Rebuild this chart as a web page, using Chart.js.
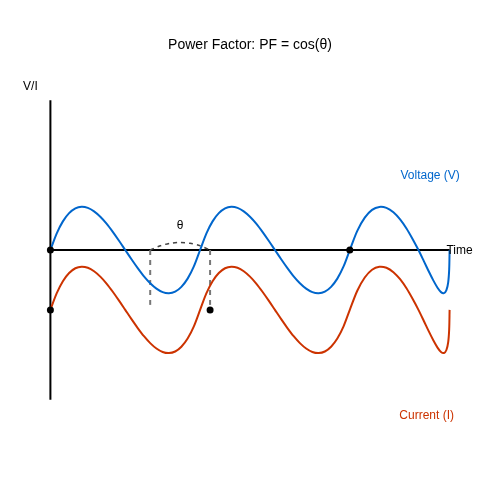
<!DOCTYPE html>
<html>
<head>
<meta charset="utf-8">
<script src="https://cdn.jsdelivr.net/npm/chart.js@4"></script>
<style>
    html, body { margin: 0; padding: 0; background: #fff; }
    #wrap { width: 500px; height: 500px; }
</style>
</head>
<body>
<div id="wrap"><canvas id="pfChart"></canvas></div>
<script>
// time axis (arbitrary units, 0 = origin of the axes)
const time = [
    0, 6.25, 12.5, 18.75, 25, 31.25, 37.5, 43.75, 50, 56.25, 62.5, 68.75, 75,
    81.25, 87.5, 93.75, 100, 106.25, 112.5, 118.75, 125, 131.25, 137.5, 143.75, 150,
    156.25, 162.5, 168.75, 175, 181.25, 187.5, 193.75, 200, 206.25, 212.5, 218.75, 225,
    231.25, 237.5, 243.75, 250, 256.25, 262.5, 268.75, 275, 281.25, 287.5, 293.75, 300,
    307.5, 315, 322.3, 329.6, 336.7, 343.7, 350.4, 356.8, 362.9, 368.8,
    374.2, 379.2, 383.8, 387.9, 391.4, 394.4, 396.8, 398.6, 399.6, 400
];
const voltage = [
    0, 16.5, 28.7, 36.9, 41.7, 43.3, 42.2, 38.7, 33.3, 26.4, 18.2, 9.3, 0,
    -9.3, -18.2, -26.4, -33.3, -38.7, -42.2, -43.3, -41.7, -36.9, -28.7, -16.5, 0,
    16.5, 28.7, 36.9, 41.7, 43.3, 42.2, 38.7, 33.3, 26.4, 18.2, 9.3, 0,
    -9.3, -18.2, -26.4, -33.3, -38.7, -42.2, -43.3, -41.7, -36.9, -28.7, -16.5, 0,
    19.2, 32.4, 40.2, 43.2, 42.2, 37.8, 30.7, 21.6, 11.1, 0,
    -11.1, -21.6, -30.7, -37.8, -42.2, -43.2, -40.2, -32.4, -19.2, 0
];
const current = [
    -60, -43.5, -31.3, -23.1, -18.3, -16.7, -17.8, -21.3, -26.7, -33.6, -41.8, -50.7, -60,
    -69.3, -78.2, -86.4, -93.3, -98.7, -102.2, -103.3, -101.7, -96.9, -88.7, -76.5, -60,
    -43.5, -31.3, -23.1, -18.3, -16.7, -17.8, -21.3, -26.7, -33.6, -41.8, -50.7, -60,
    -69.3, -78.2, -86.4, -93.3, -98.7, -102.2, -103.3, -101.7, -96.9, -88.7, -76.5, -60,
    -40.8, -27.6, -19.8, -16.8, -17.8, -22.2, -29.3, -38.4, -48.9, -60,
    -71.1, -81.6, -90.7, -97.8, -102.2, -103.2, -100.2, -92.4, -79.2, -60
];

// phase angle arc between the two dashed markers
const arcTime = [100, 110, 120, 130, 140, 150, 160];
const arcValue = [0, 4.2, 6.7, 7.5, 6.7, 4.2, 0];
const markerTime = [100, 160];
const markerDepth = -55;

// highlighted points
const dotTime = [0, 0, 160, 300];
const dotValue = [0, -60, -60, 0];

const axisTime = [0, 400];
const axisValue = [150, -150];

const BLUE = '#0066cc';
const RED = '#cc3300';
const FONT = '"Liberation Sans", Arial, sans-serif';
const DOT_R = 3.5;
// chart.js keeps room for the dots at the edge of the area, so widen the scales by the same
const PAD = DOT_R;

function pts(xs, ys) {
    return xs.map((x, i) => ({ x: x, y: ys[i] }));
}

const datasets = [
    {
        data: pts(dotTime, dotValue),
        showLine: false,
        pointRadius: DOT_R,
        pointBackgroundColor: '#000',
        pointBorderWidth: 0
    },
    {
        data: pts(time, voltage),
        borderColor: BLUE,
        borderWidth: 2,
        tension: 0.3,
        pointRadius: 0
    },
    {
        data: pts(time, current),
        borderColor: RED,
        borderWidth: 2,
        tension: 0.3,
        pointRadius: 0
    },
    {
        data: pts(arcTime, arcValue),
        borderColor: '#444',
        borderWidth: 1.5,
        borderDash: [4, 4],
        tension: 0.3,
        pointRadius: 0
    }
];

markerTime.forEach(t => {
    datasets.push({
        data: [{ x: t, y: 0 }, { x: t, y: markerDepth }],
        borderColor: '#777',
        borderWidth: 2,
        borderDash: [5, 5],
        pointRadius: 0
    });
});

// axes
datasets.push({
    data: [{ x: axisTime[0], y: 0 }, { x: axisTime[1], y: 0 }],
    borderColor: '#000',
    borderWidth: 2,
    pointRadius: 0
});
datasets.push({
    data: [{ x: 0, y: axisValue[0] }, { x: 0, y: axisValue[1] }],
    borderColor: '#000',
    borderWidth: 2,
    pointRadius: 0
});

const textPlugin = {
    id: 'textLabels',
    afterDraw(chart, args, opts) {
        const { ctx, scales: { x, y } } = chart;
        ctx.save();
        ctx.textAlign = 'center';
        ctx.textBaseline = 'middle';
        opts.items.forEach(item => {
            ctx.font = item.size + 'px ' + FONT;
            ctx.fillStyle = item.color;
            ctx.fillText(item.text, x.getPixelForValue(item.x), y.getPixelForValue(item.y));
        });
        ctx.restore();
    }
};

new Chart(document.getElementById('pfChart'), {
    type: 'line',
    data: { datasets: datasets.map(d => Object.assign({ fill: false }, d)) },
    options: {
        responsive: true,
        maintainAspectRatio: false,
        animation: false,
        events: [],
        layout: { padding: 0 },
        scales: {
            x: { type: 'linear', display: false, min: -50 + PAD, max: 450 - PAD },
            y: { type: 'linear', display: false, min: -250 + PAD, max: 250 - PAD }
        },
        plugins: {
            legend: { display: false },
            tooltip: { enabled: false },
            textLabels: {
                items: [
                    { text: 'Power Factor: PF = cos(θ)', x: 200, y: 205, size: 14, color: '#000' },
                    { text: 'V/I', x: -20, y: 164, size: 12, color: '#000' },
                    { text: 'Time', x: 410, y: -1, size: 12, color: '#000' },
                    { text: 'Voltage (V)', x: 380.5, y: 74, size: 12, color: BLUE },
                    { text: 'Current (I)', x: 377, y: -166, size: 12, color: RED },
                    { text: 'θ', x: 130, y: 24, size: 12, color: '#000' }
                ]
            }
        }
    },
    plugins: [textPlugin]
});
</script>
</body>
</html>
